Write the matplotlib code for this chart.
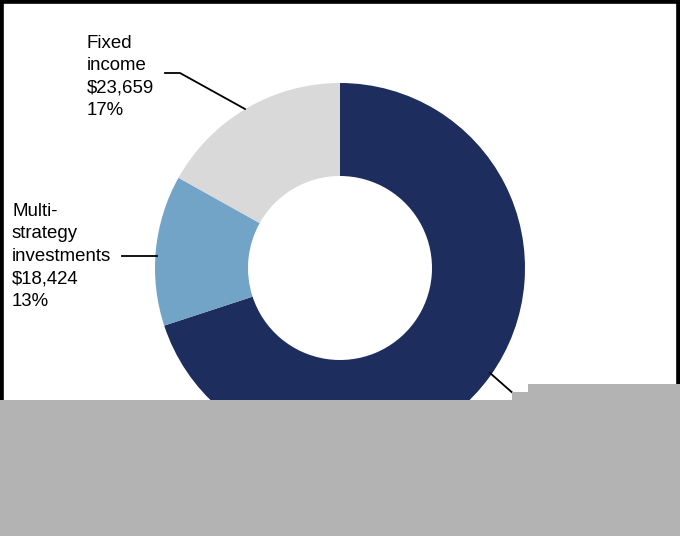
import matplotlib.pyplot as plt
from matplotlib.patches import Rectangle

plt.rcParams['font.family'] = ['Liberation Sans', 'DejaVu Sans']

# Asset allocation (the third label is hidden in the reference)
labels = ['Other', 'Multi-\nstrategy\ninvestments', 'Fixed\nincome']
values = [98000, 18424, 23659]
shown_pct = [70, 13, 17]
colors = ['#1c2d5e', '#72a4c7', '#d9d9d9']

W, H = 680, 536
fig = plt.figure(figsize=(W / 100, H / 100), dpi=100)
ax = fig.add_axes([0, 0, 1, 1])
ax.axis('off')

ax.pie(values, colors=colors, startangle=90, counterclock=False,
       center=(340, 268), radius=185,
       wedgeprops=dict(width=93, edgecolor='none'))
ax.set_xlim(0, W)
ax.set_ylim(0, H)
ax.set_aspect('equal')

def lbl(i):
    return f'{labels[i]}\n${values[i]:,}\n{shown_pct[i]}%'

# Fixed income label and leader
ax.text(87, H - 35, lbl(2), fontsize=13.4, va='top', ha='left', linespacing=1.42)
ax.plot([165, 180, 245], [H - 73, H - 73, H - 109], color='black', lw=1.3)

# Multi-strategy label and leader
ax.text(12, H - 203, lbl(1), fontsize=13.4, va='top', ha='left', linespacing=1.42)
ax.plot([122, 157], [H - 256, H - 256], color='black', lw=1.3)

# Large slice leader
ax.plot([490, 515], [H - 373, H - 395], color='black', lw=1.3)

# frame
ax.add_patch(Rectangle((0, 0), W, H, fill=False, edgecolor='black', lw=5.5,
                       zorder=5, clip_on=False))

# grey cover over the lower part, as in the reference
for x0, y0, x1, y1 in [(0, 400, W, H), (528, 384, W, 400), (512, 392, 528, 400)]:
    ax.add_patch(Rectangle((x0, H - y1), x1 - x0, y1 - y0, facecolor='#b3b3b3',
                           edgecolor='none', zorder=10, clip_on=False))

fig.savefig('out.png', dpi=100)
